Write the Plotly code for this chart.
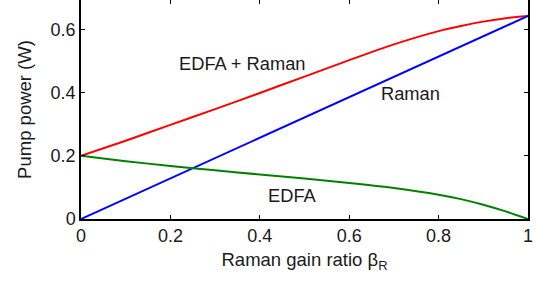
import plotly.graph_objects as go

beta = [0, 0.1, 0.2, 0.3, 0.4, 0.5, 0.6, 0.7, 0.8, 0.85, 0.9, 0.95, 1.0]
edfa = [0.200, 0.183, 0.168, 0.154, 0.141, 0.128, 0.114, 0.098, 0.077, 0.063, 0.045, 0.024, 0.000]
raman = [0.0, 0.0643, 0.1286, 0.1929, 0.2572, 0.3215, 0.3858, 0.4501, 0.5144, 0.5466, 0.5787, 0.6109, 0.643]
total = [0.200, 0.248, 0.298, 0.348, 0.399, 0.451, 0.503, 0.553, 0.595, 0.611, 0.625, 0.636, 0.643]

xticks = [0, 0.2, 0.4, 0.6, 0.8, 1]
xticklabels = ["0", "0.2", "0.4", "0.6", "0.8", "1"]
yticks = [0, 0.2, 0.4, 0.6]
yticklabels = ["0", "0.2", "0.4", "0.6"]

labels = ["EDFA + Raman", "Raman", "EDFA"]
label_x = [0.361, 0.738, 0.474]
label_y = [0.494, 0.399, 0.073]

font = "Liberation Sans, Arial, sans-serif"
txt = "#1a1a1a"

fig = go.Figure()
fig.add_trace(go.Scatter(x=beta, y=total, mode="lines", line=dict(color="#ff0000", width=2, shape="spline", smoothing=0.8)))
fig.add_trace(go.Scatter(x=beta, y=raman, mode="lines", line=dict(color="#0000ff", width=2)))
fig.add_trace(go.Scatter(x=beta, y=edfa, mode="lines", line=dict(color="#008000", width=2, shape="spline", smoothing=0.8)))
fig.add_trace(go.Scatter(x=[0], y=[0], xaxis="x2", mode="markers", marker=dict(opacity=0), hoverinfo="skip"))

for t, x, y in zip(labels, label_x, label_y):
    fig.add_annotation(x=x, y=y, text=t, showarrow=False, font=dict(size=18.3, color=txt, family=font))

fig.update_layout(
    width=537, height=289,
    margin=dict(l=81, r=9, t=0, b=70),
    paper_bgcolor="white", plot_bgcolor="white",
    showlegend=False,
    font=dict(family=font, size=18, color=txt),
    xaxis=dict(range=[0, 1], tickvals=xticks, ticktext=xticklabels, ticks="inside", ticklen=4,
               tickcolor="black", showline=True, linecolor="black", linewidth=1.5, mirror=False,
               showgrid=False, zeroline=False, automargin=False,
               tickfont=dict(size=18, family=font, color=txt),
               title=dict(text="Raman gain ratio β<sub>R</sub>", standoff=8,
                          font=dict(size=18.5, family=font, color=txt))),
    xaxis2=dict(range=[0, 1], tickvals=xticks, overlaying="x", side="top", ticks="inside", ticklen=4,
                tickcolor="black", showticklabels=False, showline=False, showgrid=False, zeroline=False,
                automargin=False),
    yaxis=dict(range=[0, 0.6935], tickvals=yticks, ticktext=yticklabels, ticks="inside", ticklen=4,
               tickcolor="black", showline=True, linecolor="black", linewidth=1.5, mirror="ticks",
               showgrid=False, zeroline=False, automargin=False,
               tickfont=dict(size=18, family=font, color=txt),
               title=dict(text="Pump power (W)", standoff=14,
                          font=dict(size=18.5, family=font, color=txt))),
)

fig.write_html("out.html", post_script="document.body.style.margin='0';",
               config={"displayModeBar": False})
